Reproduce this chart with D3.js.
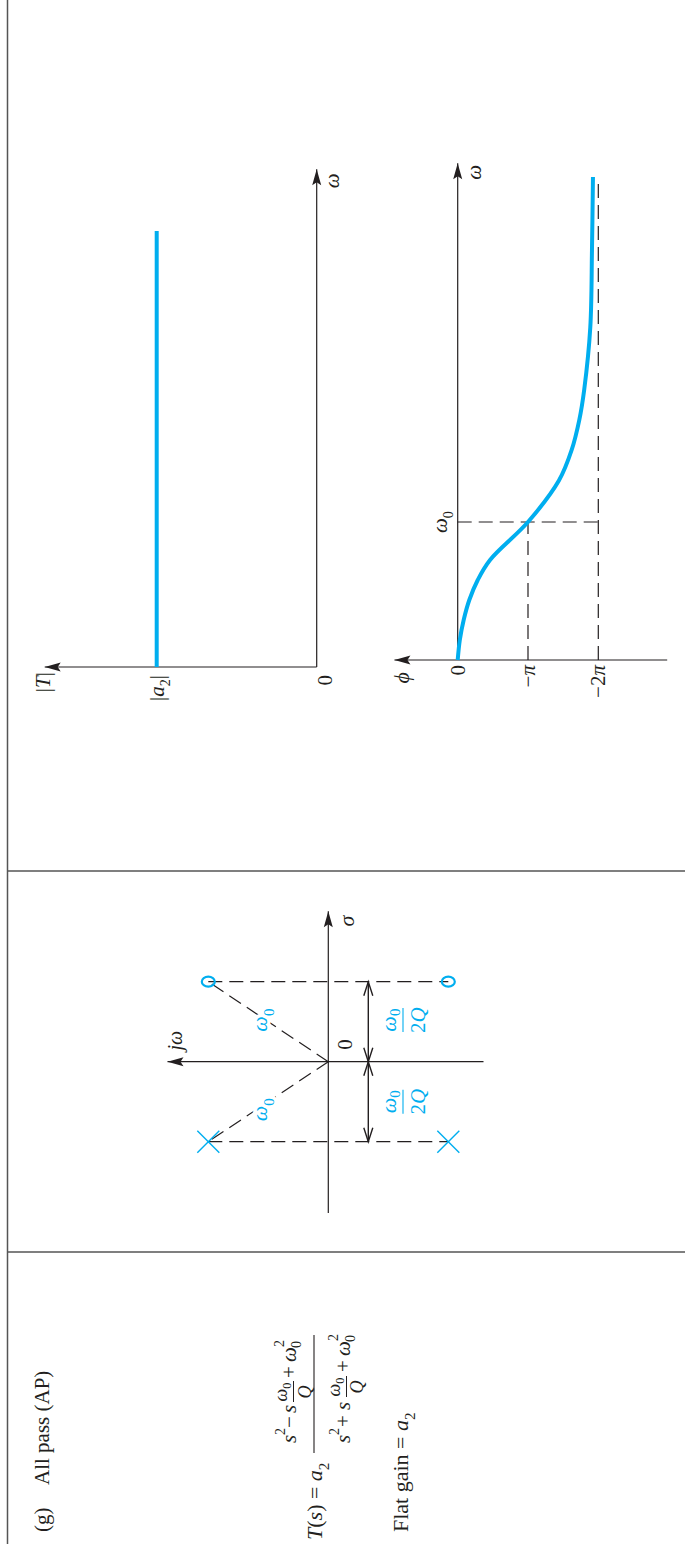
<!DOCTYPE html>
<html><head><meta charset="utf-8">
<script src="https://cdn.jsdelivr.net/npm/d3@7"></script>
<style>html,body{margin:0;padding:0;background:#fff}svg{display:block}</style>
</head><body>
<svg id="fig" width="685" height="1544"></svg>
<script>
// ---- data ----
// magnitude response: flat at |a2| (in units of |a2|), ω in units of ω0
const magOmega = [0, 3.16];
const magValue = [1, 1];
// phase response: ω in units of ω0, φ in units of π
const phaseOmega = [0, 0.145, 0.29, 0.435, 0.58, 0.725, 1.0, 1.30, 1.52, 1.74, 1.96, 2.41, 2.97, 3.5];
const phaseValue = [0, -0.03, -0.085, -0.165, -0.285, -0.46, -1.0, -1.44, -1.62, -1.73, -1.80, -1.886, -1.91, -1.924];
const phaseTickValues = [0, -1, -2];
const phaseTickLabels = ["0", "−π", "−2π"];
const omegaMarker = 1;             // ω0
// pole-zero plot: σ in units of ω0/2Q, jω scaled alike
const zerosRe = [1, 1], zerosIm = [1.5, -1.5];
const polesRe = [-1, -1], polesIm = [1.5, -1.5];

const INK = "#231f20", BLUE = "#00aeef", RULE = "#555";
const FONT = "'Liberation Serif', 'DejaVu Serif', serif";

const svg = d3.select("#fig");
// the whole sheet is laid out landscape and turned a quarter turn
const g = svg.append("g")
  .attr("transform", "translate(0,1544) rotate(-90)")
  .attr("font-family", FONT).attr("fill", INK);

function mathText(parent, u, v, segs, size, anchor, color, subShift) {
  const t = parent.append("text").attr("x", u).attr("y", v)
    .attr("font-size", size).attr("text-anchor", anchor || "start")
    .attr("fill", color || INK);
  let shift = 0;
  const sd = subShift == null ? 0.3 : subShift;
  segs.forEach(s => {
    const target = s.sub ? size * sd : s.sup ? -size * 0.45 : 0;
    const ts = t.append("tspan").attr("dy", target - shift).text(s.t);
    shift = target;
    if (s.it) ts.attr("font-style", "italic");
    if (s.sub || s.sup) ts.attr("font-size", size * 0.68);
  });
  return t;
}
function line(parent, u1, v1, u2, v2, opts) {
  opts = opts || {};
  return parent.append("line").attr("x1", u1).attr("y1", v1).attr("x2", u2).attr("y2", v2)
    .attr("stroke", opts.color || INK).attr("stroke-width", opts.w || 1.2)
    .attr("stroke-dasharray", opts.dash || null);
}
// filled axis arrowhead at (u,v) pointing along angle a (radians)
function arrowHead(parent, u, v, a) {
  const L = 16, H = 4.5, N = 3;
  const c = Math.cos(a), s = Math.sin(a);
  const p = (x, y) => [u + x * c - y * s, v + x * s + y * c];
  const pts = [p(0, 0), p(-L, H), p(-L + N, 0), p(-L, -H)];
  parent.append("path").attr("d", "M" + pts.map(d => d.join(",")).join("L") + "Z").attr("fill", INK);
}
// open dimension arrowhead
function chevron(parent, u, v, a) {
  const L = 14, H = 4.5;
  const c = Math.cos(a), s = Math.sin(a);
  const p = (x, y) => [u + x * c - y * s, v + x * s + y * c];
  const pts = [p(-L, H), p(0, 0), p(-L, -H)];
  parent.append("path").attr("d", "M" + pts.map(d => d.join(",")).join("L"))
    .attr("fill", "none").attr("stroke", INK).attr("stroke-width", 1.4);
}

// ---- table rules ----
line(g, 0, 7.5, 1544, 7.5, {color: RULE, w: 1.5});
line(g, 292, 7.5, 292, 685, {color: RULE, w: 1.5});
line(g, 673, 7.5, 673, 685, {color: RULE, w: 1.5});

// ---- panel 1: title and transfer function ----
mathText(g, 12, 49, [{t: "(g)"}], 21);
mathText(g, 59, 49, [{t: "All pass (AP)"}], 21);

mathText(g, 4, 322, [{t: "T", it: 1}, {t: "("}, {t: "s", it: 1}, {t: ") = "}, {t: "a", it: 1}, {t: "2", sub: 1}], 22);
line(g, 91, 314, 209, 314, {w: 1.1});
// numerator
mathText(g, 101, 296, [{t: "s", it: 1}], 21);
mathText(g, 109, 285, [{t: "2"}], 14);
mathText(g, 116, 296, [{t: "−"}], 21);
mathText(g, 131, 296, [{t: "s", it: 1}], 21);
mathText(g, 152, 287, [{t: "ω", it: 1}, {t: "0", sub: 1}], 18, "middle", null, 0.2);
line(g, 142, 293.5, 163, 293.5, {w: 1});
mathText(g, 152, 311, [{t: "Q", it: 1}], 18, "middle");
mathText(g, 166, 296, [{t: "+"}], 21);
mathText(g, 182, 296, [{t: "ω", it: 1}], 21);
mathText(g, 196, 301, [{t: "0"}], 14);
mathText(g, 197, 284, [{t: "2"}], 14);
// denominator
mathText(g, 101, 350, [{t: "s", it: 1}], 21);
mathText(g, 109, 339, [{t: "2"}], 14);
mathText(g, 117, 350, [{t: "+"}], 21);
mathText(g, 134, 350, [{t: "s", it: 1}], 21);
mathText(g, 157, 340, [{t: "ω", it: 1}, {t: "0", sub: 1}], 18, "middle", null, 0.2);
line(g, 147, 346.5, 168, 346.5, {w: 1});
mathText(g, 157, 363, [{t: "Q", it: 1}], 18, "middle");
mathText(g, 172, 350, [{t: "+"}], 21);
mathText(g, 188, 350, [{t: "ω", it: 1}], 21);
mathText(g, 202, 355, [{t: "0"}], 14);
mathText(g, 203, 338, [{t: "2"}], 14);

mathText(g, 12, 408, [{t: "Flat gain = "}, {t: "a", it: 1}, {t: "2", sub: 1}], 22);

// ---- panel 2: pole-zero plot ----
const re = d3.scaleLinear().domain([0, 1]).range([482.3, 562.3]);
const im = d3.scaleLinear().domain([0, 1]).range([328.3, 248.3]);
const pz = g.append("g");
// axes
line(pz, re(-1.89), im(0), re(1.88), im(0));
arrowHead(pz, re(1.88), im(0), 0);
line(pz, re(0), im(-1.94), re(0), im(2.01));
arrowHead(pz, re(0), im(2.01), -Math.PI / 2);
mathText(pz, re(1.69), im(-0.32), [{t: "σ", it: 1}], 22);
mathText(pz, re(0.14), im(1.83), [{t: "j", it: 1}, {t: "ω", it: 1}], 20);
mathText(pz, re(0.15), im(-0.3), [{t: "0"}], 21);
// construction lines
[1, -1].forEach(r => line(pz, re(r), im(1.5), re(r), im(-1.5), {dash: "14,7"}));
line(pz, re(0), im(0), re(zerosRe[0]), im(zerosIm[0]), {dash: "14,7"});
line(pz, re(0), im(0), re(polesRe[0]), im(polesIm[0]), {dash: "14,7"});
[[0.52, 0.84], [-0.6, 0.84]].forEach(([a, b]) => {
  mathText(pz, re(a), im(b) + 6, [{t: "ω", it: 1}, {t: "0", sub: 1}], 22, "middle", BLUE)
    .attr("stroke", "#fff").attr("stroke-width", 7).attr("paint-order", "stroke");
});
// dimension arrows ω0/2Q
const dimV = im(-0.5);
line(pz, re(-1), dimV, re(1), dimV, {w: 1.4});
chevron(pz, re(1), dimV, 0); chevron(pz, re(0), dimV, Math.PI);
chevron(pz, re(-1), dimV, Math.PI); chevron(pz, re(0), dimV, 0);
[0.52, -0.5].forEach(a => {
  mathText(pz, re(a), 396, [{t: "ω", it: 1}, {t: "0", sub: 1}], 22, "middle", BLUE, 0.2);
  line(pz, re(a) - 12, 403, re(a) + 12, 403, {color: BLUE, w: 1.1});
  mathText(pz, re(a), 425, [{t: "2"}, {t: "Q", it: 1}], 21, "middle", BLUE);
});
// zeros and poles
zerosRe.forEach((r, i) => pz.append("ellipse").attr("cx", re(r)).attr("cy", im(zerosIm[i]))
  .attr("rx", 5).attr("ry", 6.5).attr("fill", "none").attr("stroke", BLUE).attr("stroke-width", 2.2));
polesRe.forEach((r, i) => {
  const u = re(r), v = im(polesIm[i]), d = 11;
  line(pz, u - d, v - d, u + d, v + d, {color: BLUE, w: 1.4});
  line(pz, u - d, v + d, u + d, v - d, {color: BLUE, w: 1.4});
});

// ---- panel 3a: magnitude ----
const wMag = d3.scaleLinear().domain([0, 1]).range([877, 1015]);
const yMag = d3.scaleLinear().domain([0, 1]).range([316.7, 156.7]);
const mag = g.append("g");
line(mag, wMag(0), yMag(0), wMag(3.607), yMag(0));
arrowHead(mag, wMag(3.607), yMag(0), 0);
line(mag, wMag(0), yMag(0), wMag(0), yMag(1.7));
arrowHead(mag, wMag(0), yMag(1.7), -Math.PI / 2);
mag.append("path")
  .datum(magOmega.map((w, i) => [w, magValue[i]]))
  .attr("d", d3.line().x(d => wMag(d[0])).y(d => yMag(d[1])))
  .attr("fill", "none").attr("stroke", BLUE).attr("stroke-width", 4);
mathText(mag, wMag(0) - 5, yMag(1.68) + 2, [{t: "|"}, {t: "T", it: 1}, {t: "|"}], 21, "end");
mathText(mag, wMag(0) - 8, yMag(1) + 7, [{t: "|"}, {t: "a", it: 1}, {t: "2", sub: 1}, {t: "|"}], 21, "end");
mathText(mag, wMag(0) - 8, yMag(0) + 15, [{t: "0"}], 21, "end");
mathText(mag, wMag(3.47), yMag(0) + 22, [{t: "ω", it: 1}], 21);

// ---- panel 3b: phase ----
const wPh = d3.scaleLinear().domain([0, 1]).range([884, 1022]);
const yPh = d3.scaleLinear().domain([0, -1]).range([457.7, 528]);
const ph = g.append("g");
line(ph, wPh(0), yPh(0), wPh(3.6), yPh(0));
arrowHead(ph, wPh(3.6), yPh(0), 0);
line(ph, wPh(0), yPh(-2.98), wPh(0), yPh(0.9));
arrowHead(ph, wPh(0), yPh(0.9), -Math.PI / 2);
// guides at ω0, −π and the −2π asymptote
line(ph, wPh(omegaMarker), yPh(0), wPh(omegaMarker), yPh(-2), {dash: "14,7"});
line(ph, wPh(0), yPh(-1), wPh(omegaMarker), yPh(-1), {dash: "14,7"});
line(ph, wPh(0), yPh(-2), wPh(3.5), yPh(-2), {dash: "14,7"});
ph.append("path")
  .datum(phaseOmega.map((w, i) => [w, phaseValue[i]]))
  .attr("d", d3.line().x(d => wPh(d[0])).y(d => yPh(d[1])).curve(d3.curveCatmullRom.alpha(0.5)))
  .attr("fill", "none").attr("stroke", BLUE).attr("stroke-width", 4);
phaseTickValues.forEach((p, i) => {
  const lab = phaseTickLabels[i];
  const segs = lab === "0" ? [{t: "0"}] : [{t: lab.slice(0, lab.length - 1)}, {t: "π", it: 1}];
  mathText(ph, wPh(0) - 5, yPh(p) + 7, segs, 21, "end");
});
mathText(ph, wPh(0) - 12, yPh(0.75) + 4, [{t: "ϕ", it: 1}], 22, "end");
mathText(ph, wPh(omegaMarker), yPh(0) - 11, [{t: "ω", it: 1}, {t: "0", sub: 1}], 21, "middle");
mathText(ph, wPh(3.48), yPh(0) + 23, [{t: "ω", it: 1}], 21);
</script>
</body></html>
